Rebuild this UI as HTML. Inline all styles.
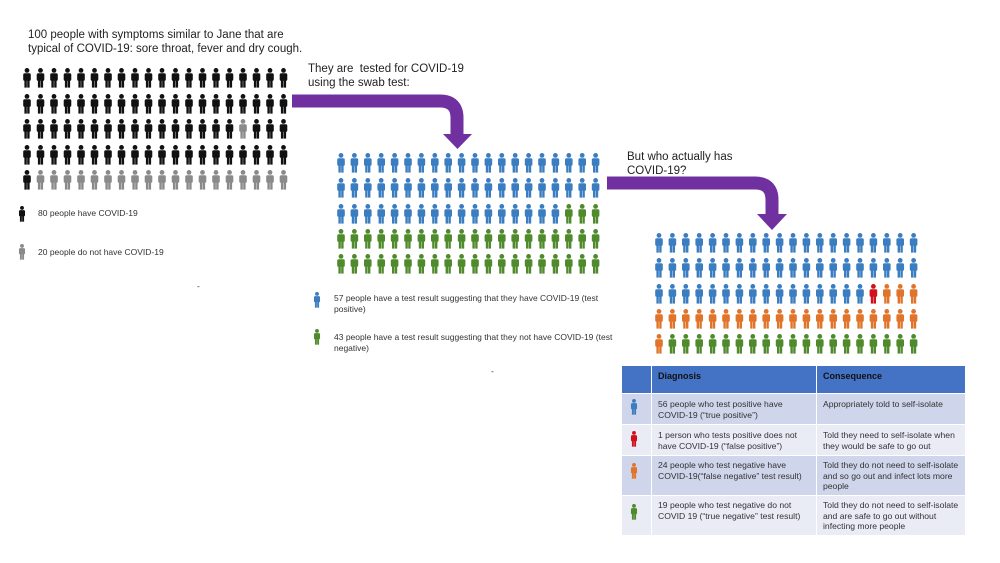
<!DOCTYPE html>
<html><head><meta charset="utf-8"><style>
body{margin:0;background:#fff;width:1000px;height:563px;overflow:hidden;font-family:"Liberation Sans",sans-serif;}
svg{position:absolute;left:0;top:0}
.t{position:absolute;color:#222;}
.s{font-size:8.5px;line-height:10.5px;color:#333;position:absolute}
table{position:absolute;left:621px;top:365px;border-collapse:collapse;font-size:8.6px;color:#333;line-height:10.5px}
td{border:1.5px solid #fff;padding:0 6px;vertical-align:top}
</style></head><body>
<svg width="1000" height="563" id="g">
<defs><symbol id="p" viewBox="0 0 10 20"><circle cx="5" cy="2.4" r="2.4"/><rect x="1.2" y="5.2" width="7.6" height="7.6" rx="1.6"/><rect x="2.4" y="12" width="2.4" height="7.6"/><rect x="5.2" y="12" width="2.4" height="7.6"/></symbol></defs>
<path d="M292,101 H440 Q457,101 457,118 V136" fill="none" stroke="#7030A0" stroke-width="13"/>
<polygon points="443,134 472,134 457.5,149" fill="#7030A0"/>
<path d="M607,183 H755 Q772,183 772,200 V216" fill="none" stroke="#7030A0" stroke-width="13"/>
<polygon points="757,214 787,214 772,230" fill="#7030A0"/>
</svg>
<div class="t" style="left:28px;top:28px;font-size:11.5px;line-height:14px">100 people with symptoms similar to Jane that are<br>typical of COVID-19: sore throat, fever and dry cough.</div>
<div class="t" style="left:308px;top:62px;font-size:11.5px;line-height:14px">They are&nbsp; tested for COVID-19<br>using the swab test:</div>
<div class="t" style="left:627px;top:150px;font-size:11.5px;line-height:14px">But who actually has<br>COVID-19?</div>
<div class="s" style="left:38px;top:208px">80 people have COVID-19</div>
<div class="s" style="left:38px;top:247px">20 people do not have COVID-19</div>
<div class="s" style="left:334px;top:293px;width:282px">57 people have a test result suggesting that they have COVID-19 (test positive)</div>
<div class="s" style="left:334px;top:332px;width:282px">43 people have a test result suggesting that they not have COVID-19 (test negative)</div>
<div class="s" style="left:197px;top:281px">-</div><div class="s" style="left:491px;top:366px">-</div>
<table>
<tr style="background:#4472C4;color:#111;font-weight:bold;font-size:9px;height:28px"><td style="width:17px;padding-top:5px"></td><td style="width:152px;padding-top:5px">Diagnosis</td><td style="width:136px;padding-top:5px">Consequence</td></tr>
<tr style="background:#CFD5EA;height:31px"><td></td><td style="padding-top:5px">56 people who test positive have COVID-19 (“true positive”)</td><td style="padding-top:5px">Appropriately told to self-isolate</td></tr>
<tr style="background:#E9EBF5;height:31px"><td></td><td style="padding-top:5px">1 person who tests positive does not have COVID-19 (“false positive”)</td><td style="padding-top:5px">Told they need to self-isolate when they would be safe to go out</td></tr>
<tr style="background:#CFD5EA;height:40px"><td></td><td style="padding-top:4px">24 people who test negative have COVID-19(“false negative” test result)</td><td style="padding-top:4px">Told they do not need to self-isolate and so go out and infect lots more people</td></tr>
<tr style="background:#E9EBF5;height:40px"><td></td><td style="padding-top:4px">19 people who test negative do not COVID 19 (“true negative” test result)</td><td style="padding-top:4px">Told they do not need to self-isolate and are safe to go out without infecting more people</td></tr>
</table>
<svg width="1000" height="563" id="h"></svg>
<script>
var h=document.getElementById('h'),ns='http://www.w3.org/2000/svg';
function ic(x,y,c,w,ht){var u=document.createElementNS(ns,'use');u.setAttribute('href','#p');u.setAttributeNS('http://www.w3.org/1999/xlink','xlink:href','#p');u.setAttribute('x',x-(w||10)/2);u.setAttribute('y',y-(ht||20)/2);u.setAttribute('width',w||10);u.setAttribute('height',ht||20);u.setAttribute('fill',c);h.appendChild(u);}
var K='#111',G='#8a8a8a',B='#3a7dc0',N='#4f8a2c',O='#E0742A',R='#d0101a';
var ry=[78,104,129,155,180];
for(var r=0;r<5;r++)for(var c=0;c<20;c++){var col=K;if(r==2&&c==16)col=G;if(r==4&&c>0)col=G;ic(27+c*13.5,ry[r],col);}
ry=[163,188,214,239,264];
for(r=0;r<5;r++)for(c=0;c<20;c++){var col=B;if(r==2&&c>=17)col=N;if(r>=3)col=N;ic(341+c*13.4,ry[r],col);}
ry=[243,268,294,319,344];
for(r=0;r<5;r++)for(c=0;c<20;c++){var col=B;if(r==2&&c==16)col=R;if(r==2&&c>16)col=O;if(r==3)col=O;if(r==4)col=c==0?O:N;ic(659+c*13.4,ry[r],col);}
ic(22,214,K,8,16);ic(22,252,G,8,16);ic(317,300,B,8,16);ic(317,337,N,8,16);
ic(634,407,B,8,16);ic(634,439,R,8,16);ic(634,471,O,8,16);ic(634,512,N,8,16);
</script>
</body></html>
